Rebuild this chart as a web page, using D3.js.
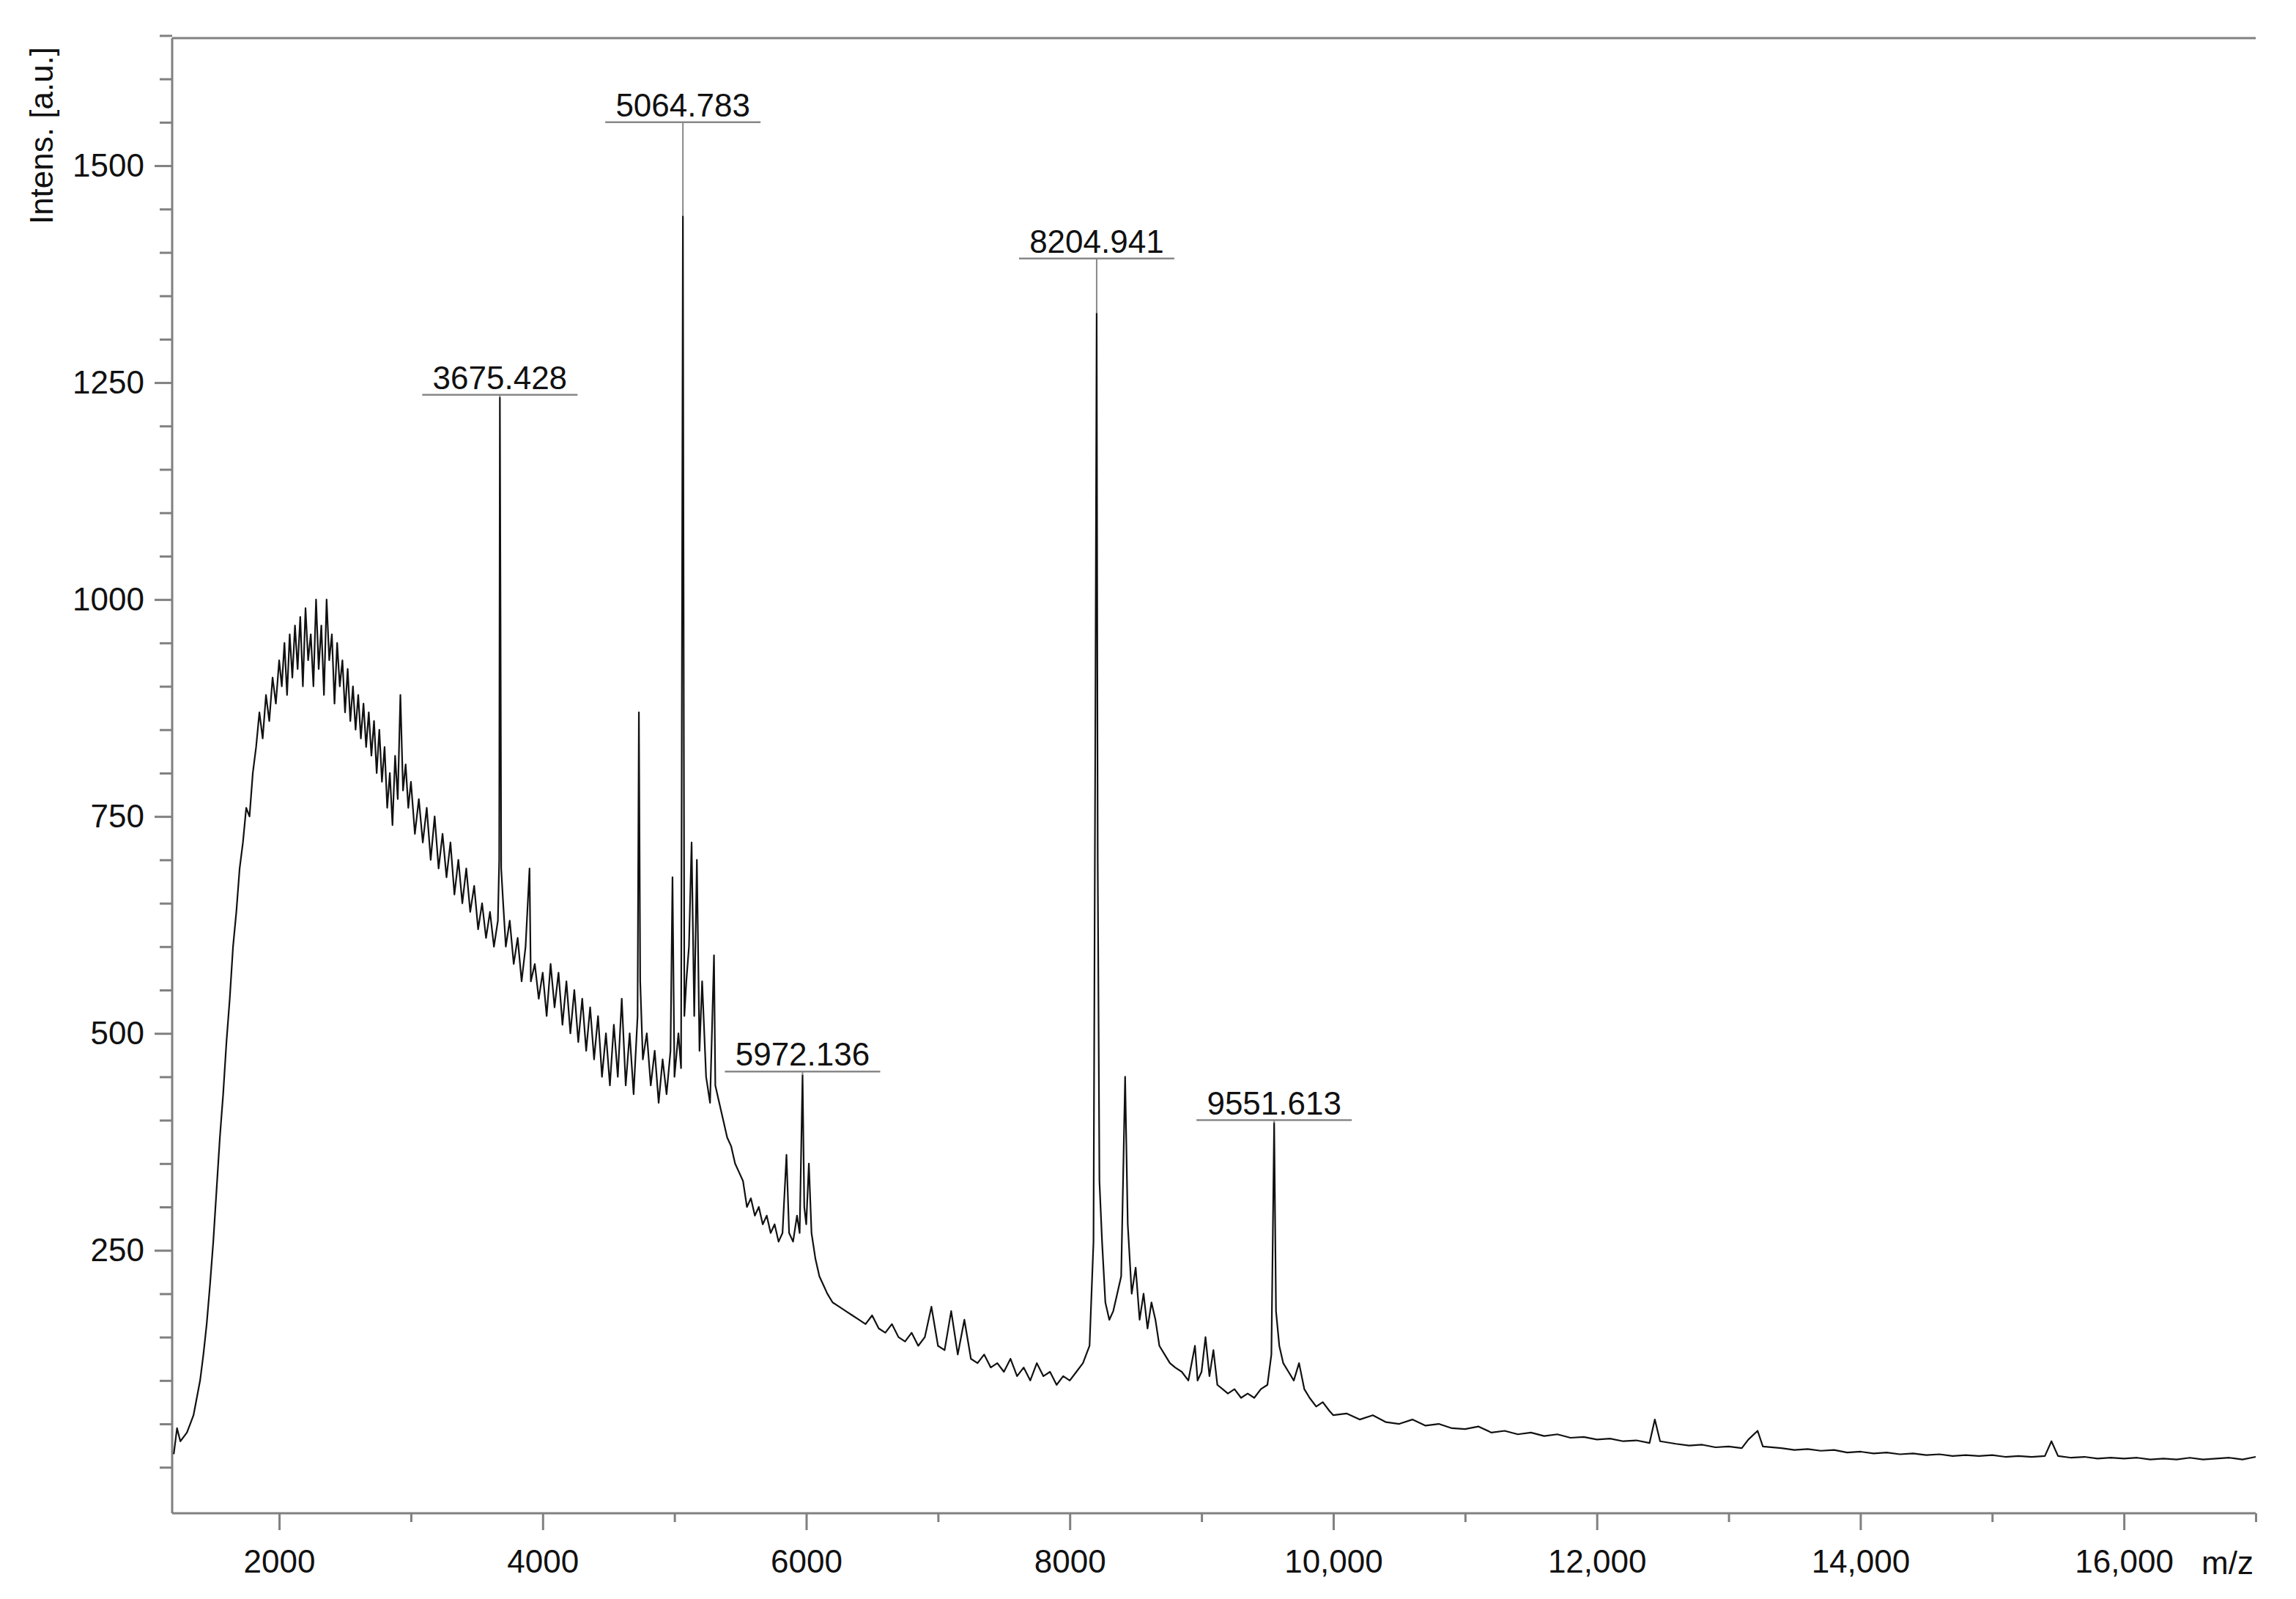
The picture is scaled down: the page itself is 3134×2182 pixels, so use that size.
<!DOCTYPE html>
<html>
<head>
<meta charset="utf-8">
<script src="https://cdn.jsdelivr.net/npm/d3@7"></script>
<style>
  body { margin: 0; background: #fff; }
  text { font-family: "Liberation Sans", Arial, sans-serif; fill: #111; }
</style>
</head>
<body>
<svg id="chart" width="3134" height="2182"></svg>
<script>
// spectrum points: [m/z, intensity]
const spectrum = [
  [1200,15],[1225,45],[1250,30],[1275,35],[1300,40],[1325,50],[1350,60],[1375,80],[1400,100],[1425,130],
  [1450,165],[1475,210],[1500,260],[1525,320],[1550,380],[1575,430],[1600,490],[1625,540],[1650,600],[1675,640],
  [1700,690],[1725,720],[1750,760],[1775,750],[1800,800],[1825,830],[1850,870],[1875,840],[1900,890],[1925,860],
  [1950,910],[1975,880],[2000,930],[2020,900],[2040,950],[2060,890],[2080,960],[2100,910],[2120,970],[2140,920],
  [2160,980],[2180,900],[2200,990],[2220,930],[2240,960],[2260,900],[2280,1000],[2300,920],[2320,970],[2340,890],
  [2360,1000],[2380,930],[2400,960],[2420,880],[2440,950],[2460,900],[2480,930],[2500,870],[2520,920],[2540,860],
  [2560,900],[2580,850],[2600,890],[2620,840],[2640,880],[2660,830],[2680,870],[2700,820],[2720,860],[2740,800],
  [2760,850],[2780,790],[2800,830],[2820,760],[2840,800],[2860,740],[2880,820],[2900,770],[2920,890],[2940,780],
  [2960,810],[2980,760],[3000,790],[3030,730],[3060,770],[3090,720],[3120,760],[3150,700],[3180,750],[3210,690],
  [3240,730],[3270,680],[3300,720],[3330,660],[3360,700],[3390,650],[3420,690],[3450,640],[3480,670],[3510,620],
  [3540,650],[3570,610],[3600,640],[3630,600],[3660,630],[3670,700],[3675,1233],[3680,980],[3685,690],[3700,650],
  [3720,600],[3750,630],[3780,580],[3810,610],[3840,560],[3870,600],[3900,690],[3910,560],[3940,580],[3970,540],
  [4000,570],[4030,520],[4060,580],[4090,530],[4120,570],[4150,510],[4180,560],[4210,500],[4240,550],[4270,490],
  [4300,540],[4330,480],[4360,530],[4390,470],[4420,520],[4450,450],[4480,500],[4510,440],[4540,510],[4570,450],
  [4600,540],[4630,440],[4660,500],[4690,430],[4720,520],[4730,870],[4740,560],[4760,470],[4790,500],[4820,440],
  [4850,480],[4880,420],[4910,470],[4940,430],[4970,480],[4985,680],[5000,450],[5030,500],[5050,460],[5064,1442],
  [5075,520],[5090,560],[5110,600],[5130,720],[5150,520],[5170,700],[5190,480],[5210,560],[5240,450],[5270,420],
  [5300,590],[5310,440],[5340,420],[5370,400],[5400,380],[5430,370],[5460,350],[5490,340],[5520,330],[5550,300],
  [5580,310],[5610,290],[5640,300],[5670,280],[5700,290],[5730,270],[5760,280],[5790,260],[5820,270],[5850,360],
  [5870,270],[5900,260],[5930,290],[5950,270],[5972,452],[5985,300],[6000,280],[6020,350],[6040,270],[6070,240],
  [6100,220],[6130,210],[6160,200],[6200,190],[6250,185],[6300,180],[6350,175],[6400,170],[6450,165],[6500,175],
  [6550,160],[6600,155],[6650,165],[6700,150],[6750,145],[6800,155],[6850,140],[6900,150],[6950,185],[7000,140],
  [7050,135],[7100,180],[7150,130],[7200,170],[7250,125],[7300,120],[7350,130],[7400,115],[7450,120],[7500,110],
  [7550,125],[7600,105],[7650,115],[7700,100],[7750,120],[7800,105],[7850,110],[7900,95],[7950,105],[8000,100],
  [8050,110],[8100,120],[8150,140],[8180,260],[8195,900],[8204,1330],[8212,700],[8225,330],[8245,260],[8270,190],
  [8300,170],[8330,180],[8360,200],[8390,220],[8420,450],[8440,280],[8470,200],[8500,230],[8530,170],[8560,200],
  [8590,160],[8620,190],[8650,170],[8680,140],[8720,130],[8760,120],[8800,115],[8850,110],[8900,100],[8950,140],
  [8970,100],[9000,110],[9030,150],[9060,105],[9090,135],[9120,95],[9160,90],[9200,85],[9250,90],[9300,80],
  [9350,85],[9400,80],[9450,90],[9500,95],[9530,130],[9551,397],[9565,180],[9590,140],[9620,120],[9660,110],
  [9700,100],[9740,120],[9780,90],[9820,80],[9870,70],[9920,75],[9970,65],[10000,60],[10100,62],[10200,55],
  [10300,60],[10400,52],[10500,50],[10600,55],[10700,48],[10800,50],[10900,45],[11000,44],[11100,47],[11200,40],
  [11300,42],[11400,38],[11500,40],[11600,36],[11700,38],[11800,34],[11900,35],[12000,32],[12100,33],[12200,30],
  [12300,31],[12400,28],[12440,55],[12480,30],[12600,27],[12700,25],[12800,26],[12900,23],[13000,24],[13100,22],
  [13150,32],[13220,42],[13260,24],[13400,22],[13500,20],[13600,21],[13700,19],[13800,20],[13900,17],[14000,18],
  [14100,16],[14200,17],[14300,15],[14400,16],[14500,14],[14600,15],[14700,13],[14800,14],[14900,13],[15000,14],
  [15100,12],[15200,13],[15300,12],[15400,13],[15450,30],[15500,13],[15600,11],[15700,12],[15800,10],[15900,11],
  [16000,10],[16100,11],[16200,9],[16300,10],[16400,9],[16500,11],[16600,9],[16700,10],[16800,11],[16900,9],[17000,12]
];

// annotated peaks: label text, m/z, peak top, height of the label underline
const peakLabels = ["3675.428", "5064.783", "5972.136", "8204.941", "9551.613"];
const peakMz = [3675, 5064, 5972, 8204, 9551];
const peakTop = [1233, 1442, 452, 1330, 397];
const labelLevel = [1236, 1550, 456, 1393, 400];

const xTicks = [2000, 4000, 6000, 8000, 10000, 12000, 14000, 16000];
const yTicks = [250, 500, 750, 1000, 1250, 1500];

const svg = d3.select("#chart");
const plotL = 235, plotR = 3079, plotT = 52, plotB = 2065;

const x = d3.scaleLinear().domain([1188, 17000]).range([plotL, plotR]);
const y = d3.scaleLinear().domain([-53, 1647]).range([plotB, plotT]);

const axisColor = "#808080";
const fontSize = 44;

// frame: left, bottom, top
svg.append("line").attr("x1", plotL).attr("x2", plotL).attr("y1", plotT).attr("y2", plotB)
   .attr("stroke", axisColor).attr("stroke-width", 3);
svg.append("line").attr("x1", plotL).attr("x2", plotR).attr("y1", plotB).attr("y2", plotB)
   .attr("stroke", axisColor).attr("stroke-width", 3);
svg.append("line").attr("x1", plotL).attr("x2", plotR).attr("y1", plotT).attr("y2", plotT)
   .attr("stroke", axisColor).attr("stroke-width", 3);

// y axis
const yAxis = d3.axisLeft(y)
  .tickValues(d3.range(0, 1651, 50))
  .tickFormat(d => yTicks.includes(d) ? d : "")
  .tickSizeOuter(0);
const gy = svg.append("g").attr("transform", `translate(${plotL},0)`).call(yAxis);
gy.select(".domain").remove();
gy.selectAll(".tick line").attr("stroke", axisColor).attr("stroke-width", 3)
  .attr("x2", d => yTicks.includes(d) ? -24 : -17);
gy.selectAll(".tick text").attr("x", -38).style("font-size", fontSize + "px")
  .style("font-family", "Liberation Sans, Arial, sans-serif").attr("fill", "#111");

// x axis
const xAxis = d3.axisBottom(x)
  .tickValues(d3.range(2000, 17001, 1000))
  .tickFormat(d => xTicks.includes(d) ? (d >= 10000 ? d3.format(",")(d) : d) : "")
  .tickSizeOuter(0);
const gx = svg.append("g").attr("transform", `translate(0,${plotB})`).call(xAxis);
gx.select(".domain").remove();
gx.selectAll(".tick line").attr("stroke", axisColor).attr("stroke-width", 3)
  .attr("y2", d => xTicks.includes(d) ? 23 : 12);
gx.selectAll(".tick text").attr("y", 50).style("font-size", fontSize + "px")
  .style("font-family", "Liberation Sans, Arial, sans-serif").attr("fill", "#111");

// axis titles
svg.append("text").attr("transform", "translate(72,185) rotate(-90)")
  .attr("text-anchor", "middle").style("font-size", fontSize + "px").text("Intens. [a.u.]");
svg.append("text").attr("x", 3076).attr("y", 2148).attr("text-anchor", "end")
  .style("font-size", fontSize + "px").text("m/z");

// spectrum
const line = d3.line().x(d => x(d[0])).y(d => y(d[1]));
svg.append("path").datum(spectrum).attr("d", line)
  .attr("fill", "none").attr("stroke", "#111").attr("stroke-width", 2.2)
  .attr("stroke-linejoin", "round");

// peak annotations
const ann = svg.append("g");
peakLabels.forEach((lab, i) => {
  const px = x(peakMz[i]);
  ann.append("line").attr("x1", px).attr("x2", px)
     .attr("y1", y(peakTop[i])).attr("y2", y(labelLevel[i]))
     .attr("stroke", "#888").attr("stroke-width", 2);
  ann.append("line").attr("x1", px - 106).attr("x2", px + 106)
     .attr("y1", y(labelLevel[i])).attr("y2", y(labelLevel[i]))
     .attr("stroke", "#888").attr("stroke-width", 2.5);
  ann.append("text").attr("x", px).attr("y", y(labelLevel[i]) - 8)
     .attr("text-anchor", "middle").style("font-size", fontSize + "px").text(lab);
});
</script>
</body>
</html>
